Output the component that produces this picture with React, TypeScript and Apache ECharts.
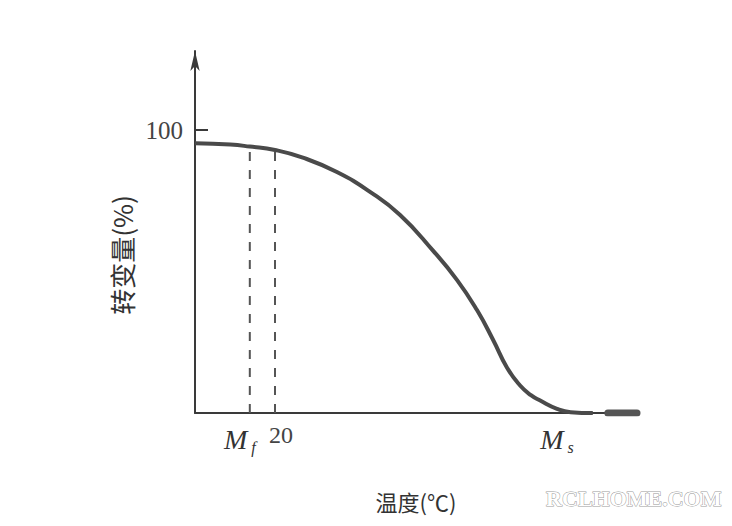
import React, { useEffect, useRef } from "react";
import * as echarts from "echarts";

// Curve: transformation amount (%) vs temperature (relative units, 0..100 across the axis)
const curveX = [0, 8, 12.4, 18.1, 24.4, 32.1, 39.6, 46.4, 53.8, 59.3, 63.8, 67.4, 70.6, 73.5, 76, 78.1, 81.9, 85, 90];
const curveY = [95.4, 94.9, 94.2, 93.0, 90.3, 85.2, 78.2, 70.0, 57.5, 47.0, 36.4, 26.0, 16.0, 9.8, 6.3, 4.4, 1.5, 0.3, 0];

// Dashed guide lines at Mf and 20
const guideX = [12.4, 18.1];
const guideTop = [94.2, 93.0];

// Thick blob at the end of the x axis
const axisEndX = [93.4, 100];

// Tick labels
const xTickValues = [12.4, 18.1, 81.9];
const xTickLabels = ["{m|M}{sf|f}", "{n|20}", "{m|M}{s|s}"];
const yTickValues = [100];

const xName = "温度(℃)";
const yName = "转变量(%)";
const watermark = "RCLHOME.COM";

export default function App() {
  const ref = useRef<HTMLDivElement>(null);
  useEffect(() => {
    if (!ref.current) return;
    const chart = echarts.init(ref.current, undefined, { renderer: "svg" });
    const ink = "#3a3a3a";
    const curveData = curveX.map((x, i) => [x, curveY[i]]);
    const guideSeries = guideX.map((x, i) => ({
      type: "line",
      data: [[x, 0], [x, guideTop[i]]],
      symbol: "none",
      silent: true,
      lineStyle: { color: "#555", width: 2, type: [9, 9] },
      z: 1,
    }));
    chart.setOption({
      animation: false,
      backgroundColor: "#ffffff",
      grid: { left: 195, right: 95, top: 51, bottom: 113, containLabel: false },
      xAxis: {
        type: "value",
        min: 0,
        max: 100,
        name: xName,
        nameLocation: "middle",
        nameGap: 77,
        nameTextStyle: { fontFamily: "Noto Sans CJK SC", fontSize: 22, color: "#333" },
        axisLine: { show: true, lineStyle: { color: ink, width: 2 } },
        axisTick: { show: false },
        splitLine: { show: false },
        axisLabel: {
          customValues: xTickValues,
          margin: 10,
          formatter: (v: number) => {
            const i = xTickValues.indexOf(v);
            return i >= 0 ? xTickLabels[i] : "";
          },
          rich: {
            m: { fontFamily: "Liberation Serif", fontStyle: "italic", fontSize: 28, color: "#333" },
            sf: { fontFamily: "Liberation Serif", fontStyle: "italic", fontSize: 16, color: "#333", padding: [16, 20, 0, 4] },
            s: { fontFamily: "Liberation Serif", fontStyle: "italic", fontSize: 16, color: "#333", padding: [16, 0, 0, 4] },
            n: { fontFamily: "Liberation Serif", fontSize: 24, color: "#444", padding: [0, 0, 0, 12] },
          },
        },
      },
      yAxis: {
        type: "value",
        min: 0,
        max: 128,
        axisLine: {
          show: true,
          lineStyle: { color: ink, width: 2 },
          symbol: ["none", "arrow"],
          symbolSize: [7, 20],
        },
        axisTick: { show: true, inside: true, length: 13, customValues: yTickValues, lineStyle: { color: ink, width: 2 } },
        splitLine: { show: false },
        axisLabel: {
          customValues: yTickValues,
          margin: 12,
          fontFamily: "Liberation Serif",
          fontSize: 25,
          color: "#444",
        },
      },
      graphic: [
        {
          type: "text",
          x: 121,
          y: 255,
          rotation: Math.PI / 2,
          style: {
            text: yName,
            font: "26px 'Noto Sans CJK SC'",
            fill: "#333",
            align: "center",
            verticalAlign: "middle",
          },
        },
        {
          type: "text",
          right: 10,
          bottom: 16,
          style: {
            text: watermark,
            font: "bold 22px 'Liberation Serif'",
            fill: "#ffffff",
            stroke: "#9a9a9a",
            lineWidth: 1,
          },
        },
      ],
      series: [
        {
          type: "line",
          data: curveData,
          smooth: 0.5,
          symbol: "none",
          lineStyle: { color: "#4a4a4a", width: 4 },
          z: 3,
        },
        ...guideSeries,
        {
          type: "line",
          data: axisEndX.map((x) => [x, 0]),
          symbol: "none",
          lineStyle: { color: "#555", width: 7, cap: "round" },
          z: 2,
        },
      ],
    });
    return () => chart.dispose();
  }, []);
  return (
    <div
      ref={ref}
      style={{ position: "fixed", left: 0, top: 0, width: 732, height: 526, background: "#fff" }}
    />
  );
}
